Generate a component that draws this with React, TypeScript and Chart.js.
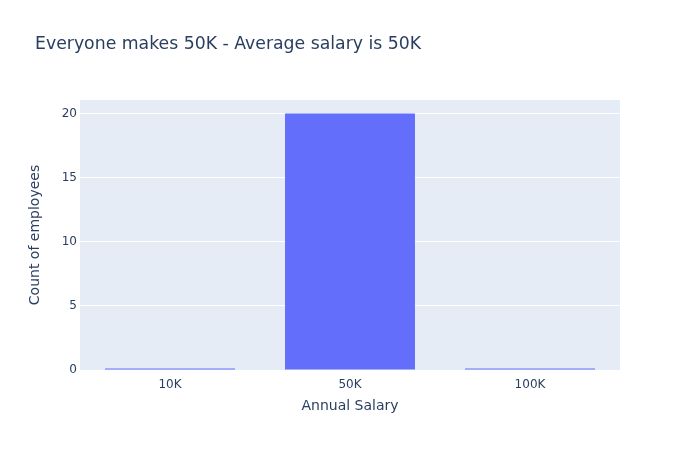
import React, { useEffect, useRef } from "react";
import { Chart, registerables } from "chart.js";

Chart.register(...registerables);

const categories = ["10K", "50K", "100K"];
const counts = [0, 20, 0];
const yTicks = [0, 5, 10, 15, 20];
const titleText = "Everyone makes 50K - Average salary is 50K";
const xTitle = "Annual Salary";
const yTitle = "Count of employees";

const FONT = "'DejaVu Sans', Verdana, sans-serif";
const TEXT = "#2a3f5f";

export default function App() {
  const ref = useRef<HTMLCanvasElement | null>(null);
  useEffect(() => {
    if (!ref.current) return;
    const bgPlugin = {
      id: "bgPlugin",
      beforeDraw(chart: any) {
        const { ctx, chartArea } = chart;
        ctx.save();
        ctx.fillStyle = "#ffffff";
        ctx.fillRect(0, 0, chart.width, chart.height);
        ctx.fillStyle = "#E5ECF6";
        ctx.fillRect(chartArea.left, chartArea.top, chartArea.right - chartArea.left, chartArea.bottom - chartArea.top);
        ctx.restore();
      },
      afterDraw(chart: any) {
        const { ctx } = chart;
        ctx.save();
        ctx.fillStyle = TEXT;
        ctx.font = `17.3px ${FONT}`;
        ctx.textBaseline = "middle";
        ctx.textAlign = "left";
        ctx.fillText(titleText, 35, 45);
        ctx.restore();
      },
    };
    const chart = new Chart(ref.current, {
      type: "bar",
      data: {
        labels: categories,
        datasets: [
          {
            data: counts,
            backgroundColor: "#636EFA",
            categoryPercentage: 1,
            barPercentage: 0.722,
            minBarLength: 1.6,
          },
        ],
      },
      options: {
        animation: false,
        responsive: false,
        maintainAspectRatio: false,
        layout: { padding: { left: 0, right: 80, top: 100, bottom: 0 } },
        plugins: { legend: { display: false }, tooltip: { enabled: false }, title: { display: false } },
        scales: {
          x: {
            grid: { display: false, drawTicks: false },
            border: { display: false },
            ticks: { color: TEXT, font: { family: FONT, size: 12 }, padding: 8 },
            title: { display: true, text: xTitle, color: TEXT, font: { family: FONT, size: 14 }, padding: { top: 0, bottom: 35.6 } },
            afterFit(scale: any) { scale.height = 80; },
          },
          y: {
            min: 0,
            max: 21.05,
            grid: { color: "#ffffff", lineWidth: 1, drawTicks: false },
            border: { display: false },
            afterBuildTicks(scale: any) { scale.ticks = yTicks.map((v) => ({ value: v })); },
            ticks: { color: TEXT, font: { family: FONT, size: 12 }, padding: 3, includeBounds: false },
            title: { display: true, text: yTitle, color: TEXT, font: { family: FONT, size: 14 }, padding: { top: 26.6, bottom: 0 } },
            afterFit(scale: any) { scale.width = 80; },
          },
        },
      },
      plugins: [bgPlugin],
    });
    return () => chart.destroy();
  }, []);
  return (
    <div style={{ position: "fixed", left: 0, top: 0, width: 700, height: 450 }}>
      <canvas ref={ref} width={700} height={450} style={{ width: 700, height: 450 }} />
    </div>
  );
}
